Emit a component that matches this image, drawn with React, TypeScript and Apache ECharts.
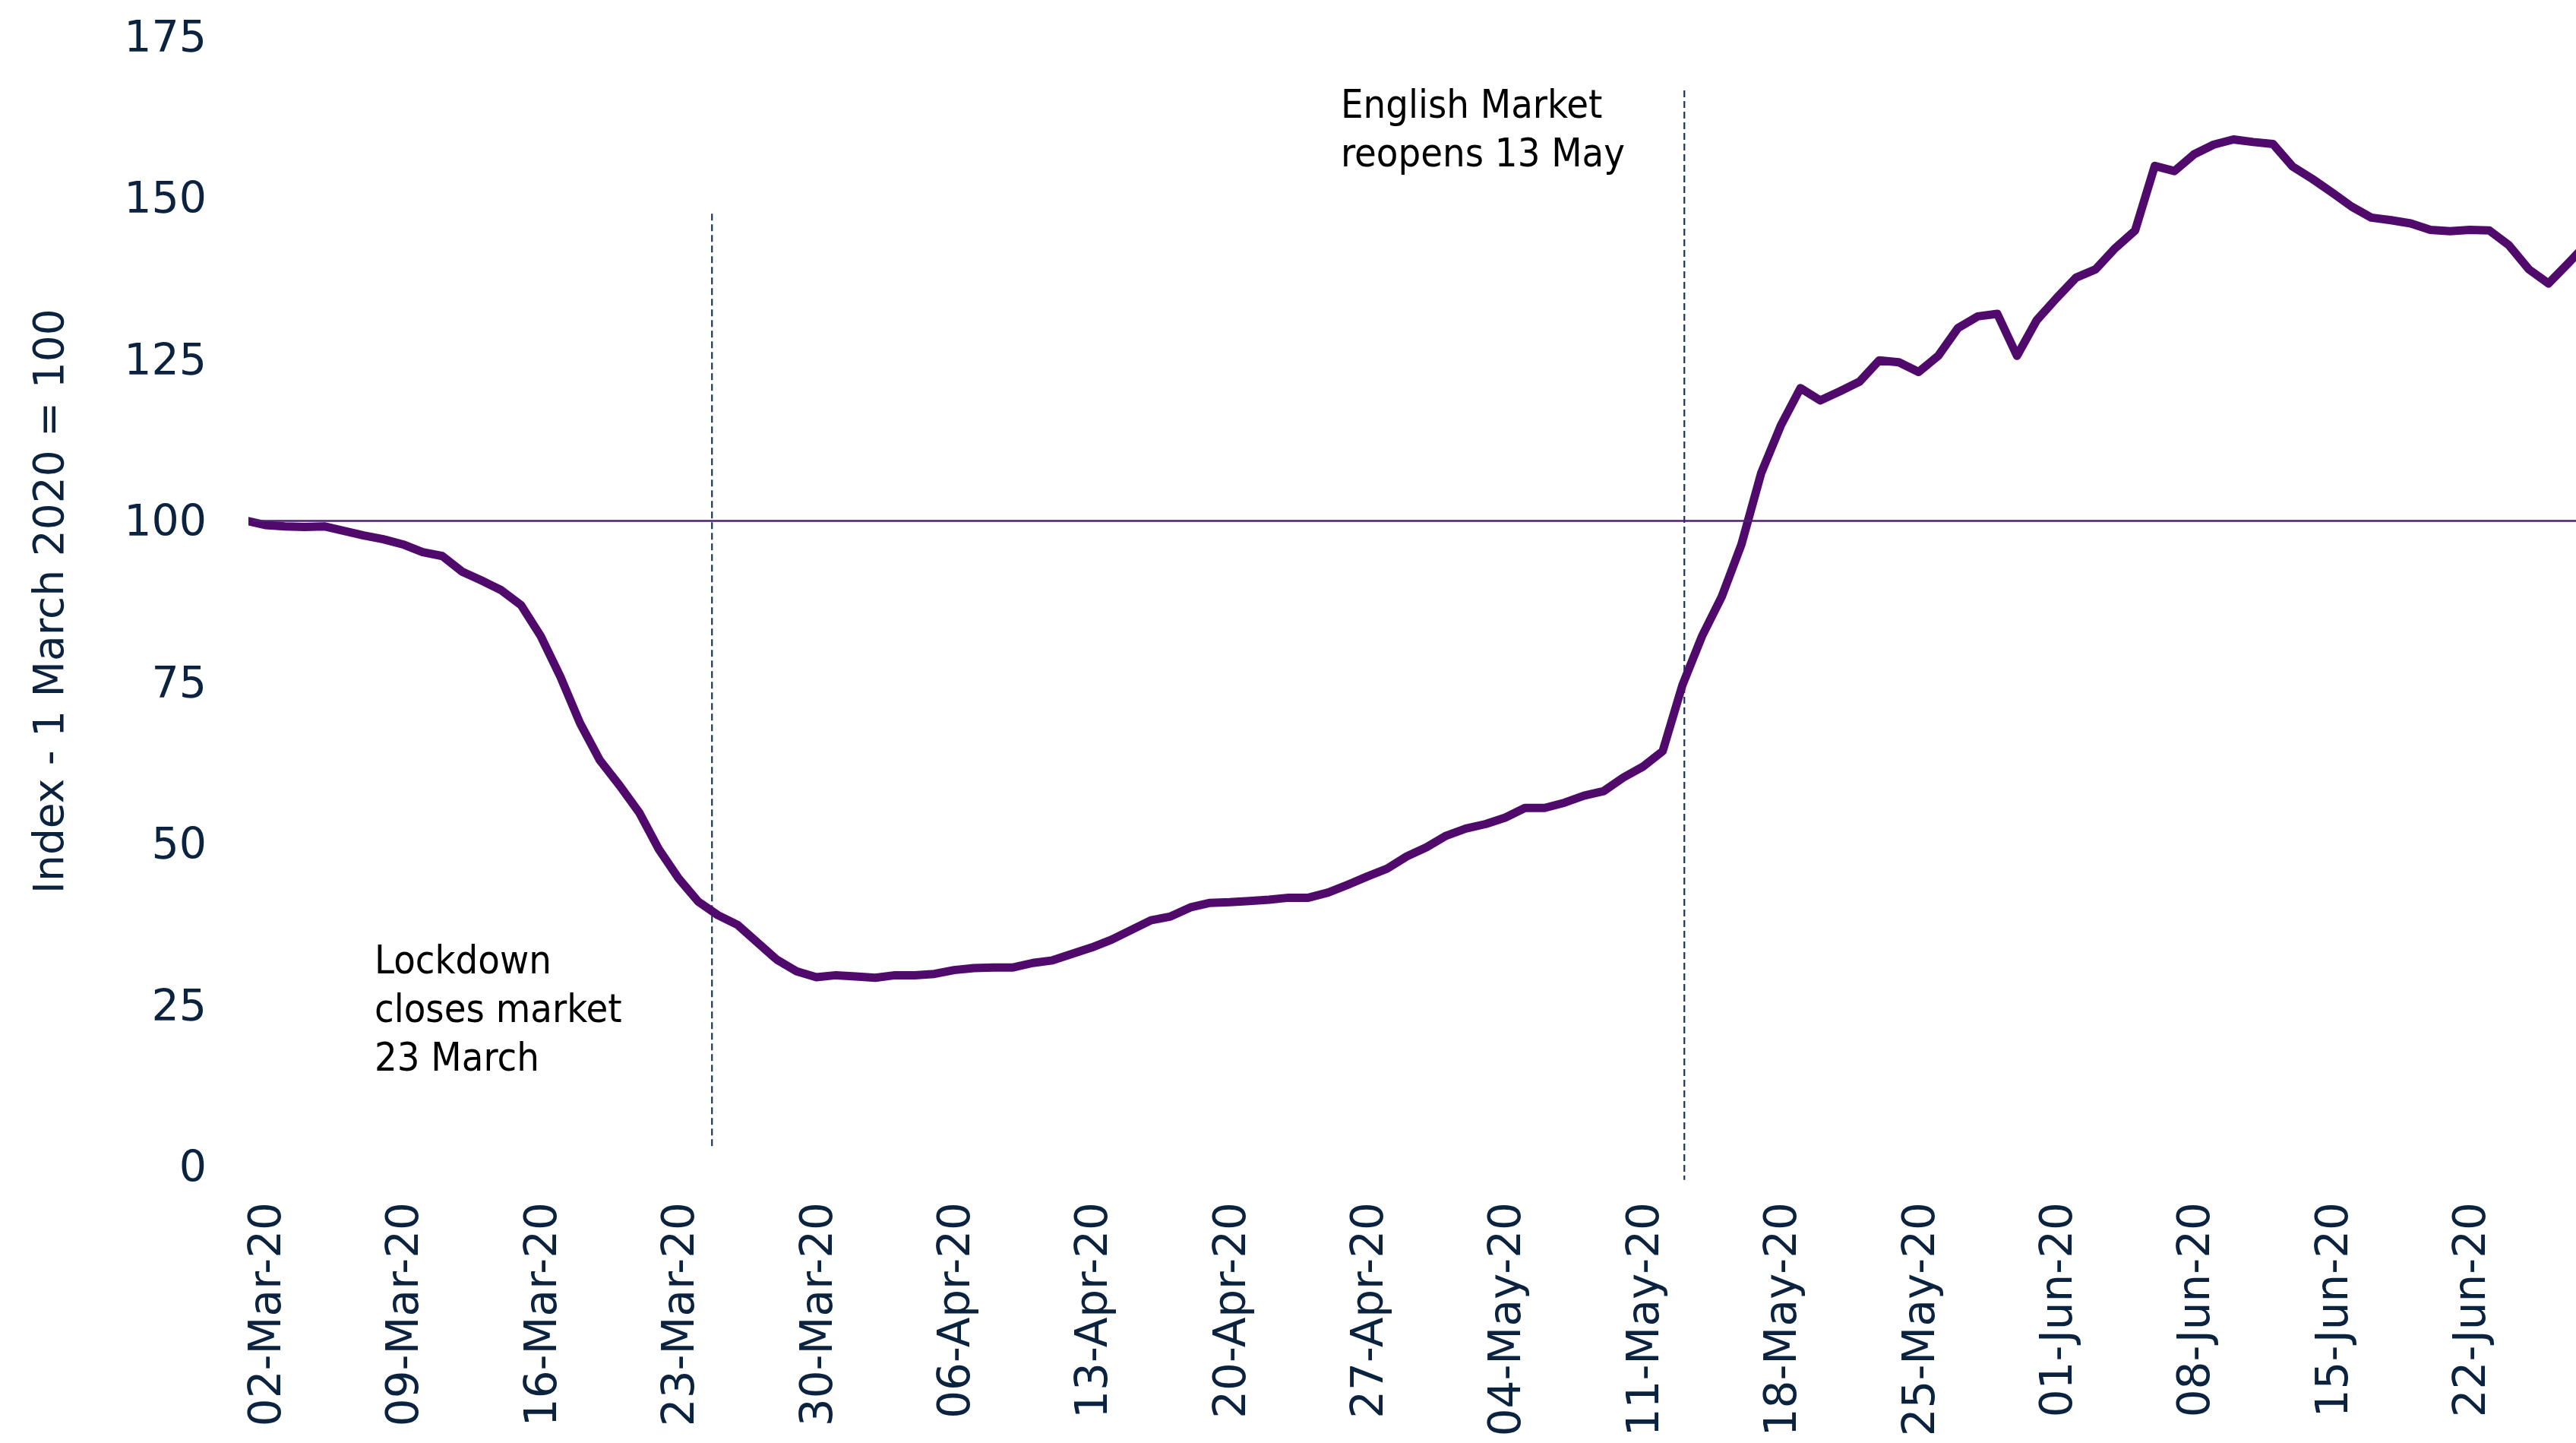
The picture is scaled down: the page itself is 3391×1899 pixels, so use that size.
import React, { useEffect, useRef } from "react";
import * as echarts from "echarts";

// Day index: 0 = 02-Mar-20. Series starts 01-Mar-20 (index -1).
const tickDays = [0, 7, 14, 21, 28, 35, 42, 49, 56, 63, 70, 77, 84, 91, 98, 105, 112];
const tickLabels = [
  "02-Mar-20", "09-Mar-20", "16-Mar-20", "23-Mar-20", "30-Mar-20", "06-Apr-20",
  "13-Apr-20", "20-Apr-20", "27-Apr-20", "04-May-20", "11-May-20", "18-May-20",
  "25-May-20", "01-Jun-20", "08-Jun-20", "15-Jun-20", "22-Jun-20",
];
const firstDay = -1;
const indexValues = [
  100, 99.3, 99.1, 99.0, 99.1, 98.4, 97.7, 97.1, 96.3, 95.1,
  94.5, 92.1, 90.7, 89.2, 86.9, 82.1, 75.8, 68.6, 62.9, 59.0,
  54.8, 49.1, 44.6, 41.0, 38.9, 37.4, 34.7, 32.0, 30.2, 29.3,
  29.6, 29.4, 29.2, 29.6, 29.6, 29.8, 30.4, 30.7, 30.8, 30.8,
  31.5, 31.9, 32.9, 33.9, 35.1, 36.6, 38.1, 38.7, 40.1, 40.8,
  40.9, 41.1, 41.3, 41.6, 41.6, 42.4, 43.6, 44.9, 46.1, 48.0,
  49.4, 51.2, 52.3, 53.0, 54.0, 55.5, 55.5, 56.3, 57.4, 58.1,
  60.2, 61.9, 64.3, 74.5, 82.1, 88.2, 96.3, 107.3, 114.7, 120.5,
  118.6, 120.0, 121.5, 124.8, 124.5, 123.0, 125.5, 129.8, 131.6, 132.0,
  125.5, 131.0, 134.4, 137.6, 138.9, 142.2, 144.9, 154.9, 154.1, 156.7,
  158.2, 159.0, 158.6, 158.3, 154.8, 152.9, 150.8, 148.6, 146.9, 146.5,
  146.0, 145.0, 144.8, 145.0, 144.9, 142.6, 138.9, 136.7, 139.8, 143.0,
];
const yTicks = { min: 0, max: 175, interval: 25 };
const baseline = 100;
const eventLines = [
  { day: 22.7, from: 147.5, to: 2.9 },
  { day: 72.1, from: 166.6, to: -2.1 },
];
const annotations = [
  { text: "Lockdown\ncloses market\n23 March", x: 493, y: 1231 },
  { text: "English Market\nreopens 13 May", x: 1765, y: 105 },
];
const yTitle = "Index - 1 March 2020 = 100";

const navy = "#0c2340";
const purple = "#500a6c";

export default function App() {
  const ref = useRef<HTMLDivElement>(null);
  useEffect(() => {
    const chart = echarts.init(ref.current!, null, { renderer: "svg" });
    const seriesData = indexValues.map((v, i) => [firstDay + i, v]);
    chart.setOption({
      animation: false,
      backgroundColor: "#ffffff",
      grid: {
        left: 333,
        right: 0,
        top: 47.5,
        bottom: 364,
        containLabel: false,
        outerBoundsMode: "none",
      },
      xAxis: {
        type: "value",
        min: -0.62,
        max: 117.4,
        splitLine: { show: false },
        axisLine: { show: false },
        axisTick: { show: false },
        axisLabel: {
          customValues: tickDays,
          rotate: 90,
          margin: 47,
          formatter: (v: number) => {
            const k = tickDays.indexOf(Math.round(v));
            return k >= 0 ? tickLabels[k] : "";
          },
          fontFamily: "DejaVu Sans",
          fontSize: 58,
          color: navy,
        },
      },
      yAxis: {
        type: "value",
        min: yTicks.min,
        max: yTicks.max,
        interval: yTicks.interval,
        splitLine: { show: false },
        axisLine: { show: false },
        axisTick: { show: false },
        axisLabel: { margin: 61, fontFamily: "DejaVu Sans", fontSize: 57, color: navy },
        name: yTitle,
        nameLocation: "middle",
        nameGap: 242,
        nameTextStyle: { fontFamily: "DejaVu Sans", fontSize: 55, color: navy },
      },
      series: [
        {
          type: "line",
          data: seriesData,
          showSymbol: false,
          symbol: "none",
          lineStyle: { color: purple, width: 11, join: "round" },
          z: 3,
          markLine: {
            silent: true,
            symbol: "none",
            label: { show: false },
            lineStyle: { color: "#4a2070", width: 2.5, type: "solid" },
            data: [{ yAxis: baseline }],
          },
        },
      ],
    });

    const texts = annotations.map((a) => ({
      type: "text",
      x: a.x,
      y: a.y,
      z: 10,
      style: {
        text: a.text,
        fill: "#000000",
        font: "52px 'DejaVu Sans Condensed', 'DejaVu Sans', sans-serif",
        lineHeight: 64,
        verticalAlign: "top",
      },
    }));
    const lines = eventLines.map((e) => {
      const p1 = chart.convertToPixel({ gridIndex: 0 }, [e.day, e.from]) as number[];
      const p2 = chart.convertToPixel({ gridIndex: 0 }, [e.day, e.to]) as number[];
      return {
        type: "line",
        z: 1,
        silent: true,
        shape: { x1: p1[0], y1: p1[1], x2: p2[0], y2: p2[1] },
        style: { stroke: "#1d3557", lineWidth: 2.2, lineDash: [9, 5] },
      };
    });
    chart.setOption({ graphic: [...texts, ...lines] });
    return () => chart.dispose();
  }, []);
  return (
    <div
      ref={ref}
      style={{ position: "absolute", left: 0, top: 0, width: 3391, height: 1899 }}
    />
  );
}
